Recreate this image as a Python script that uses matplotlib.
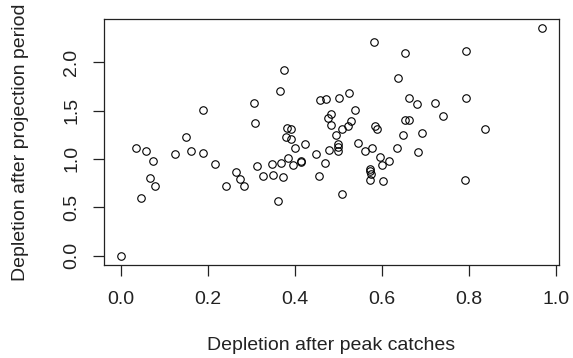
import matplotlib
matplotlib.use("Agg")
import matplotlib.pyplot as plt

depletion_peak = [
    0.000, 0.034, 0.047, 0.057, 0.067, 0.075, 0.078, 0.124, 0.150, 0.161,
    0.188, 0.189, 0.217, 0.242, 0.264, 0.274, 0.284, 0.305, 0.308, 0.313,
    0.327, 0.347, 0.350, 0.361, 0.365, 0.368, 0.373, 0.375, 0.379, 0.381,
    0.383, 0.391, 0.391, 0.396, 0.399, 0.413, 0.414, 0.423, 0.449, 0.455,
    0.457, 0.469, 0.471, 0.477, 0.478, 0.482, 0.483, 0.494, 0.498, 0.498,
    0.498, 0.501, 0.508, 0.509, 0.522, 0.524, 0.529, 0.538, 0.544, 0.561,
    0.573, 0.573, 0.574, 0.573, 0.576, 0.582, 0.585, 0.589, 0.596, 0.599,
    0.602, 0.616, 0.634, 0.636, 0.648, 0.652, 0.652, 0.661, 0.662, 0.680,
    0.683, 0.692, 0.721, 0.739, 0.790, 0.793, 0.793, 0.837, 0.967,
]
depletion_projection = [
    0.000, 1.116, 0.598, 1.078, 0.798, 0.977, 0.722, 1.054, 1.228, 1.078,
    1.506, 1.064, 0.943, 0.722, 0.867, 0.795, 0.722, 1.582, 1.371, 0.922,
    0.822, 0.943, 0.832, 0.563, 1.703, 0.957, 0.808, 1.920, 1.230, 1.323,
    1.005, 1.313, 1.209, 0.933, 1.116, 0.964, 0.977, 1.150, 1.054, 0.822,
    1.606, 0.957, 1.617, 1.423, 1.091, 1.354, 1.461, 1.244, 1.150, 1.122,
    1.078, 1.630, 1.313, 0.639, 1.340, 1.679, 1.396, 1.510, 1.165, 1.078,
    0.894, 0.870, 0.847, 0.784, 1.116, 2.207, 1.340, 1.313, 1.019, 0.933,
    0.770, 0.977, 1.116, 1.837, 1.244, 2.096, 1.399, 1.399, 1.630, 1.568,
    1.075, 1.271, 1.582, 1.444, 0.780, 2.117, 1.630, 1.313, 2.352,
]
x_ticks = [0.0, 0.2, 0.4, 0.6, 0.8, 1.0]
x_tick_labels = ["0.0", "0.2", "0.4", "0.6", "0.8", "1.0"]
y_ticks = [0.0, 0.5, 1.0, 1.5, 2.0]
y_tick_labels = ["0.0", "0.5", "1.0", "1.5", "2.0"]
x_label = "Depletion after peak catches"
y_label = "Depletion after projection period"

plt.rcParams["font.family"] = ["Liberation Sans", "DejaVu Sans"]

fig = plt.figure(figsize=(5.73, 3.58), dpi=100)
ax = fig.add_axes([104 / 573, 1 - 264.7 / 358, (559 - 104) / 573, (264.7 - 19) / 358])

ax.plot(depletion_peak, depletion_projection, linestyle="none", marker="o",
        markersize=5.4, markerfacecolor="none", markeredgecolor="black",
        markeredgewidth=0.8)

ax.set_xlim(-0.0387, 1.0066)
ax.set_ylim(-0.094, 2.446)
ax.set_xticks(x_ticks)
ax.set_xticklabels(x_tick_labels)
ax.set_yticks(y_ticks)
ax.set_yticklabels(y_tick_labels, rotation=90, va="center")

for s in ax.spines.values():
    s.set_linewidth(0.9)
    s.set_color("#222222")

ax.tick_params(axis="both", direction="out", length=8, width=0.9,
               color="#222222", labelsize=14, labelcolor="#222222")
ax.tick_params(axis="x", pad=11)
ax.tick_params(axis="y", pad=9)

ax.set_xlabel(x_label, fontsize=14, color="#222222", labelpad=21)
ax.set_ylabel(y_label, fontsize=14, color="#222222", labelpad=25)

fig.savefig("out.png", dpi=100)
